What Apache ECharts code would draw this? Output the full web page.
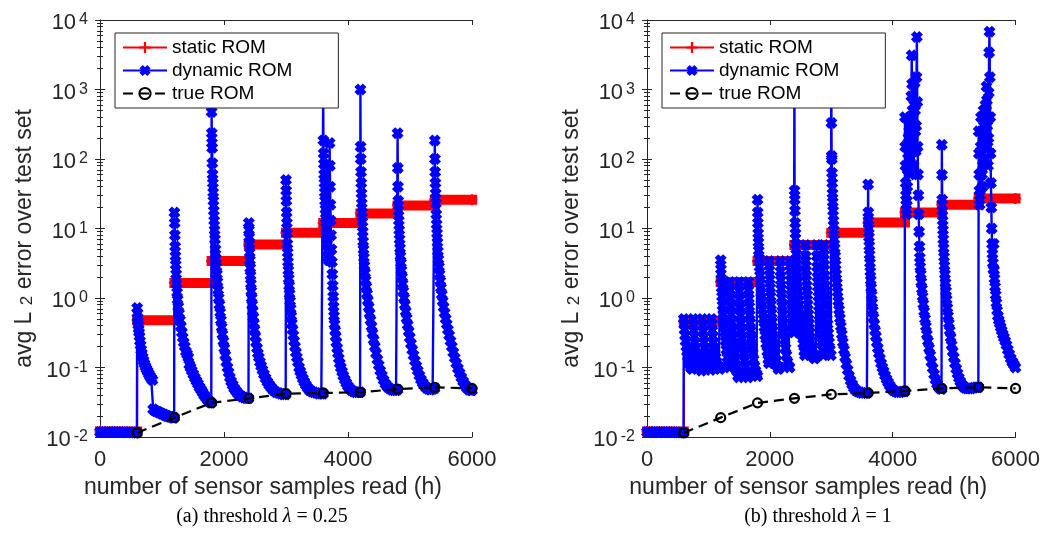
<!DOCTYPE html>
<html>
<head>
<meta charset="utf-8">
<script src="https://cdn.jsdelivr.net/npm/echarts@6/dist/echarts.min.js"></script>
<style>
  html, body { margin: 0; padding: 0; background: #fff; }
  #main { width: 1043px; height: 534px; }
</style>
</head>
<body>
<div id="main"></div>
<script>
// 数据：每段 600 个样本
var segStart = [0, 600, 1200, 1800, 2400, 3000, 3600, 4200, 4800, 5400];
var segEnd = 6000;

// static ROM 每段的误差水平
var staticA = [0.012, 0.48, 1.65, 3.4, 5.9, 8.7, 12, 16.5, 21.5, 26];
var staticB = [0.012, 0.47, 1.7, 3.4, 5.8, 8.7, 12.2, 17, 22, 27];

// true ROM
var trueH = [600, 1200, 1800, 2400, 3000, 3600, 4200, 4800, 5400, 6000];
var trueA = [0.0115, 0.019, 0.031, 0.036, 0.042, 0.043, 0.044, 0.049, 0.052, 0.05];
var trueB = [0.0115, 0.019, 0.031, 0.036, 0.041, 0.043, 0.046, 0.05, 0.052, 0.05];

// dynamic ROM (a) threshold 0.25, [h, error]
var dynamicA = [
  // 0-600
  [0,0.0118],[40,0.0118],[80,0.0117],[120,0.0118],[160,0.0118],[200,0.0117],[240,0.0118],[280,0.0118],[320,0.0117],[360,0.0117],[400,0.0118],[440,0.0117],[480,0.0117],[520,0.0116],[560,0.0116],[595,0.0116],
  // 600-1200
  [600,0.72],[604,0.6],[608,0.52],[613,0.46],[618,0.41],[624,0.36],[630,0.32],[637,0.28],[645,0.24],[654,0.21],[664,0.18],[675,0.16],[688,0.14],[702,0.125],[717,0.113],[733,0.103],[750,0.095],[768,0.088],[787,0.081],[806,0.075],[826,0.07],[846,0.066],[858,0.025],[880,0.024],[905,0.0235],[930,0.023],[955,0.0225],[980,0.022],[1005,0.0215],[1030,0.021],[1055,0.0205],[1080,0.02],[1105,0.0198],[1130,0.0195],[1155,0.0192],[1180,0.019],[1196,0.019],
  // 1200-1800
  [1200,17],[1204,12],[1208,8],[1212,5.5],[1217,4],[1222,3],[1228,2.2],[1235,1.6],[1243,1.2],[1252,0.95],[1262,0.75],[1275,0.6],[1290,0.48],[1305,0.39],[1320,0.32],[1335,0.27],[1350,0.23],[1368,0.2],[1386,0.17],[1405,0.155],[1425,0.14],[1440,0.11],[1460,0.1],[1480,0.09],[1505,0.08],[1530,0.071],[1555,0.064],[1580,0.058],[1605,0.052],[1630,0.048],[1655,0.044],[1680,0.04],[1710,0.037],[1740,0.034],[1770,0.032],[1795,0.031],
  // 1800-2400
  [1800,475],[1803,235],[1806,170],[1809,145],[1812,87],[1816,60],[1820,45],[1825,33],[1830,25],[1836,18],[1842,13],[1848,9.5],[1855,7],[1862,5],[1870,3.7],[1878,2.8],[1886,2.2],[1895,1.7],[1905,1.3],[1915,1],[1926,0.8],[1938,0.62],[1950,0.48],[1962,0.38],[1975,0.3],[1990,0.24],[2005,0.19],[2020,0.15],[2038,0.12],[2056,0.1],[2075,0.085],[2095,0.072],[2115,0.063],[2140,0.056],[2165,0.05],[2195,0.046],[2225,0.042],[2255,0.04],[2290,0.038],[2325,0.037],[2360,0.036],[2395,0.036],
  // 2400-3000
  [2400,12],[2403,9.5],[2406,7.5],[2410,6],[2414,4.5],[2418,3.5],[2423,2.7],[2428,2.1],[2434,1.6],[2440,1.25],[2447,1],[2455,0.8],[2463,0.65],[2472,0.53],[2482,0.43],[2493,0.35],[2505,0.28],[2518,0.23],[2532,0.19],[2547,0.16],[2562,0.14],[2580,0.12],[2600,0.105],[2620,0.092],[2645,0.08],[2670,0.07],[2700,0.062],[2730,0.056],[2765,0.051],[2800,0.047],[2840,0.044],[2880,0.043],[2920,0.042],[2960,0.041],[2995,0.041],
  // 3000-3600
  [3000,50],[3003,35],[3006,25],[3010,17],[3014,12],[3018,8.5],[3022,6],[3027,4.5],[3032,3.3],[3038,2.5],[3044,1.9],[3051,1.5],[3058,1.15],[3066,0.9],[3075,0.7],[3085,0.55],[3095,0.43],[3106,0.35],[3118,0.29],[3131,0.24],[3145,0.2],[3160,0.165],[3176,0.14],[3193,0.12],[3211,0.1],[3230,0.088],[3250,0.078],[3272,0.069],[3295,0.062],[3320,0.056],[3350,0.051],[3380,0.047],[3415,0.045],[3450,0.044],[3490,0.043],[3530,0.042],[3570,0.042],[3598,0.042],
  // 3600-4200
  [3600,900],[3603,185],[3607,120],[3611,85],[3615,60],[3620,45],[3625,33],[3630,25],[3636,19],[3642,14],[3648,10.5],[3655,8],[3662,6],[3670,4.8],[3678,3.8],[3686,3.5],[3700,3.5],[3703,170],[3707,80],[3711,40],[3716,22],[3721,13],[3727,8],[3733,5],[3740,3.3],[3747,2.2],[3754,1.5],[3761,1.05],[3768,0.75],[3775,0.55],[3783,0.42],[3792,0.34],[3802,0.28],[3813,0.23],[3825,0.19],[3838,0.16],[3852,0.135],[3868,0.115],[3885,0.1],[3905,0.087],[3925,0.076],[3948,0.067],[3972,0.06],[3998,0.054],[4025,0.05],[4055,0.047],[4090,0.045],[4125,0.044],[4160,0.044],[4195,0.044],
  // 4200-4800
  [4200,1000],[4203,150],[4206,100],[4210,65],[4214,45],[4218,32],[4222,23],[4227,17],[4232,12.5],[4238,9],[4244,6.5],[4250,5],[4257,3.8],[4265,2.9],[4274,2.3],[4284,1.8],[4295,1.45],[4307,1.15],[4320,0.92],[4334,0.74],[4348,0.6],[4363,0.48],[4379,0.39],[4396,0.31],[4414,0.25],[4433,0.2],[4453,0.16],[4474,0.13],[4496,0.108],[4520,0.09],[4546,0.077],[4574,0.066],[4604,0.058],[4636,0.053],[4670,0.05],[4705,0.048],[4740,0.047],[4775,0.047],[4798,0.048],
  // 4800-5400
  [4800,235],[4803,74],[4806,40],[4810,25],[4815,18],[4820,13],[4826,9.5],[4832,7],[4839,5.2],[4846,4],[4854,3.2],[4862,2.5],[4871,2],[4881,1.6],[4892,1.25],[4904,1],[4917,0.8],[4931,0.64],[4946,0.51],[4962,0.41],[4979,0.33],[4997,0.27],[5016,0.22],[5036,0.18],[5057,0.15],[5079,0.125],[5102,0.105],[5126,0.09],[5151,0.077],[5177,0.067],[5204,0.06],[5232,0.055],[5262,0.051],[5295,0.049],[5330,0.048],[5365,0.049],[5395,0.05],
  // 5400-6000
  [5400,185],[5403,100],[5406,65],[5410,45],[5414,32],[5419,23],[5424,16],[5430,11.5],[5436,8.5],[5443,6.3],[5450,4.7],[5458,3.6],[5467,2.8],[5477,2.2],[5488,1.75],[5500,1.4],[5513,1.12],[5527,0.9],[5542,0.74],[5558,0.61],[5575,0.5],[5593,0.42],[5612,0.35],[5632,0.29],[5653,0.24],[5675,0.2],[5698,0.165],[5722,0.138],[5747,0.115],[5773,0.097],[5800,0.083],[5828,0.072],[5857,0.063],[5887,0.056],[5918,0.051],[5950,0.048],[5980,0.047],[6000,0.047]
];

// dynamic ROM (b) threshold 1
var dynamicB = [
  // 0-600
  [0,0.0118],[40,0.0118],[80,0.0117],[120,0.0118],[160,0.0118],[200,0.0117],[240,0.0118],[280,0.0118],[320,0.0117],[360,0.0117],[400,0.0118],[440,0.0117],[480,0.0117],[520,0.0116],[560,0.0116],[595,0.0116],
  // 600-1200
  [600,0.5],[606,0.42],[613,0.35],[621,0.29],[630,0.24],[640,0.2],[652,0.17],[665,0.145],[680,0.125],[697,0.11],[715,0.1],[735,0.095],
  [750,0.5],[756,0.41],[763,0.34],[771,0.28],[780,0.23],[791,0.19],[803,0.16],[816,0.14],[831,0.12],[848,0.105],[866,0.097],[885,0.09],
  [900,0.5],[906,0.4],[913,0.33],[921,0.27],[930,0.23],[941,0.19],[953,0.16],[967,0.135],[982,0.12],[999,0.105],[1017,0.097],[1035,0.092],
  [1050,0.5],[1056,0.42],[1063,0.34],[1071,0.28],[1080,0.23],[1091,0.19],[1103,0.16],[1117,0.14],[1132,0.12],[1149,0.107],[1167,0.1],[1185,0.095],[1197,0.1],
  // 1200-1800
  [1200,3.5],[1204,2.6],[1209,1.9],[1215,1.4],[1222,1.05],[1230,0.78],[1240,0.58],[1251,0.43],[1263,0.32],[1277,0.24],[1292,0.18],[1308,0.14],[1325,0.115],[1342,0.1],
  [1350,1.7],[1354,1.3],[1359,1],[1365,0.76],[1372,0.58],[1380,0.45],[1389,0.35],[1399,0.27],[1410,0.21],[1422,0.165],[1435,0.13],[1450,0.105],[1466,0.088],[1483,0.076],[1495,0.072],
  [1500,1.7],[1504,1.25],[1509,0.95],[1515,0.72],[1522,0.56],[1530,0.43],[1539,0.33],[1549,0.26],[1560,0.2],[1572,0.16],[1585,0.125],[1600,0.1],[1616,0.085],[1633,0.075],[1645,0.072],
  [1650,1.7],[1654,1.3],[1659,0.98],[1665,0.75],[1672,0.57],[1680,0.44],[1689,0.34],[1699,0.26],[1710,0.2],[1722,0.16],[1735,0.13],[1750,0.105],[1766,0.09],[1783,0.08],[1797,0.075],
  // 1800-2400
  [1800,26],[1803,17],[1806,12],[1810,8.5],[1814,6.3],[1819,4.8],[1825,3.7],[1832,2.8],[1840,2.1],[1849,1.6],[1859,1.2],[1870,0.9],[1882,0.68],[1895,0.5],[1909,0.38],[1924,0.29],[1940,0.22],[1957,0.17],[1975,0.13],[1985,0.115],
  [1990,3.4],[1994,2.5],[1999,1.85],[2005,1.4],[2012,1.05],[2020,0.8],[2029,0.6],[2039,0.45],[2050,0.34],[2062,0.26],[2075,0.2],[2090,0.155],[2106,0.125],[2123,0.105],[2140,0.095],[2160,0.1],
  [2170,3.4],[2174,2.4],[2179,1.8],[2185,1.35],[2192,1],[2200,0.76],[2209,0.57],[2219,0.43],[2230,0.33],[2242,0.25],[2255,0.19],[2270,0.15],[2286,0.12],[2303,0.105],[2320,0.1],
  [2330,3.4],[2334,2.5],[2339,1.8],[2345,1.3],[2352,0.95],[2360,0.7],[2369,0.52],[2379,0.4],[2392,0.32],
  // 2400-3000
  [2400,2000],[2403,35],[2406,26],[2409,18],[2413,12],[2417,8.5],[2422,6],[2428,4.3],[2435,3.1],[2443,2.3],[2452,1.7],[2462,1.25],[2473,0.92],[2485,0.68],[2498,0.5],[2512,0.38],[2527,0.29],[2543,0.22],[2560,0.17],[2572,0.15],
  [2580,5.8],[2584,4],[2589,2.9],[2595,2.1],[2602,1.5],[2610,1.1],[2619,0.8],[2629,0.58],[2640,0.43],[2652,0.32],[2665,0.24],[2680,0.19],[2696,0.16],[2713,0.14],[2730,0.135],[2750,0.14],
  [2760,5.8],[2764,4],[2769,2.8],[2775,2],[2782,1.45],[2790,1.05],[2799,0.76],[2809,0.56],[2820,0.41],[2832,0.3],[2845,0.23],[2858,0.18],[2872,0.15],
  [2880,5.8],[2884,4.2],[2889,3],[2895,2.1],[2902,1.5],[2910,1.1],[2919,0.8],[2929,0.58],[2940,0.42],[2952,0.31],[2965,0.23],[2978,0.18],[2994,0.15],
  // 3000-3600
  [3000,1500],[3003,330],[3006,110],[3009,100],[3012,63],[3016,45],[3020,32],[3025,24],[3030,18],[3036,13],[3042,9.5],[3049,7],[3056,5.2],[3064,4],[3072,3],[3081,2.2],[3091,1.65],[3102,1.22],[3114,0.9],[3127,0.68],[3141,0.51],[3156,0.39],[3172,0.3],[3189,0.23],[3207,0.18],[3226,0.14],[3246,0.112],[3267,0.092],[3290,0.076],[3314,0.065],[3340,0.057],[3368,0.051],[3398,0.047],[3430,0.045],[3465,0.044],[3500,0.043],[3540,0.043],[3580,0.043],
  // 3600-4200
  [3600,43],[3603,17],[3606,13],[3610,10],[3614,7.5],[3619,5.6],[3624,4.2],[3630,3.2],[3636,2.4],[3643,1.8],[3650,1.4],[3658,1.1],[3667,0.85],[3677,0.66],[3688,0.52],[3700,0.42],[3713,0.34],[3727,0.28],[3742,0.23],[3758,0.19],[3775,0.16],[3793,0.135],[3812,0.115],[3832,0.1],[3853,0.088],[3876,0.077],[3900,0.068],[3925,0.061],[3952,0.055],[3980,0.05],[4010,0.047],[4045,0.045],[4080,0.044],[4120,0.044],[4160,0.045],[4195,0.045],
  // 4200-4800
  [4200,400],[4204,150],[4208,80],[4212,45],[4216,30],[4220,22],[4226,16],[4232,25],[4238,40],[4244,70],[4250,120],[4256,200],[4262,360],[4268,250],[4274,150],[4280,90],[4286,60],[4292,120],[4298,300],[4304,800],[4310,3100],[4316,1200],[4322,500],[4328,250],[4334,130],[4340,80],[4346,130],[4352,600],[4358,1250],[4364,500],[4370,250],[4376,130],[4382,300],[4388,1500],[4394,5700],[4400,660],[4406,150],[4412,60],[4418,30],[4424,16],[4430,9],[4436,5.5],[4442,3.8],[4449,2.8],[4457,2.2],[4466,1.7],[4476,1.35],[4487,1.05],[4499,0.82],[4512,0.64],[4526,0.5],[4541,0.39],[4557,0.3],[4574,0.24],[4592,0.19],[4611,0.15],[4631,0.12],[4652,0.098],[4674,0.08],[4697,0.067],[4721,0.058],[4746,0.053],[4772,0.05],[4795,0.049],
  // 4800-5400
  [4800,160],[4803,59],[4806,26],[4810,18],[4814,13],[4819,9.5],[4824,7],[4830,5.2],[4836,3.9],[4843,2.9],[4851,2.2],[4860,1.65],[4869,1.25],[4879,0.95],[4890,0.72],[4902,0.55],[4915,0.43],[4929,0.34],[4944,0.27],[4960,0.21],[4977,0.17],[4995,0.14],[5014,0.115],[5034,0.096],[5055,0.082],[5077,0.071],[5100,0.063],[5124,0.057],[5150,0.053],[5178,0.051],[5210,0.05],[5245,0.05],[5280,0.05],[5320,0.051],[5360,0.052],[5395,0.052],
  // 5400-6000
  [5400,250],[5404,120],[5408,60],[5412,35],[5416,22],[5420,30],[5426,60],[5432,150],[5438,400],[5444,250],[5450,120],[5456,60],[5462,40],[5468,80],[5474,200],[5480,500],[5486,300],[5492,150],[5498,100],[5504,200],[5510,600],[5516,300],[5522,500],[5528,1100],[5534,700],[5540,300],[5546,150],[5552,80],[5558,200],[5564,900],[5570,3400],[5576,6800],[5582,1500],[5588,400],[5594,120],[5600,45],[5606,20],[5612,10],[5618,6],[5624,4.3],[5632,3.2],[5640,2.6],[5645,6],[5650,2.5],[5658,1.9],[5667,1.45],[5677,1.1],[5688,0.85],[5700,0.66],[5713,0.55],[5727,0.48],[5742,0.43],[5758,0.38],[5775,0.34],[5793,0.3],[5812,0.27],[5832,0.24],[5853,0.21],[5875,0.18],[5898,0.155],[5922,0.135],[5947,0.12],[5972,0.11],[5998,0.1]
];

var names = ['static ROM', 'dynamic ROM', 'true ROM'];

var axisColor = '#262626';
var sansFont = 'Liberation Sans, Arial, sans-serif';
var plusPath = 'path://M4,0H6V4H10V6H6V10H4V6H0V4H4Z';
var crossPath = 'path://M0,3L3,0L5,2L7,0L10,3L8,5L10,7L7,10L5,8L3,10L0,7L2,5Z';

// 阶梯线的点：每段起点 + 终点
function stepData(levels) {
  var out = [];
  for (var i = 0; i < segStart.length; i++) out.push([segStart[i], levels[i]]);
  out.push([segEnd, levels[levels.length - 1]]);
  return out;
}
// 粗红带：每段一条水平线，段间断开
function bandData(levels) {
  var out = [];
  for (var i = 0; i < segStart.length; i++) {
    var e = i < segStart.length - 1 ? segStart[i + 1] : segEnd;
    out.push([segStart[i], levels[i]]);
    out.push([e, levels[i]]);
    out.push([e, '-']);
  }
  return out;
}
function pairs(xs, ys) {
  return xs.map(function (x, i) { return [x, ys[i]]; });
}

function xAx(g, pos) {
  var bottom = pos === 'bottom';
  return {
    type: 'value', gridIndex: g, position: pos,
    min: 0, max: 6000, interval: 2000,
    axisLine: { show: true, onZero: false, lineStyle: { color: axisColor, width: 1 } },
    axisTick: { show: true, inside: true, length: 5, lineStyle: { color: axisColor } },
    splitLine: { show: false },
    axisLabel: bottom ? {
      show: true, fontSize: 22, fontFamily: sansFont, color: axisColor, margin: 12,
      formatter: function (v) { return String(v); }
    } : { show: false },
    name: bottom ? 'number of sensor samples read (h)' : '',
    nameLocation: 'middle',
    nameGap: 35,
    nameTextStyle: { fontSize: 23, fontFamily: sansFont, color: axisColor, padding: [0, 46, 0, 0] }
  };
}

function yAx(g, pos) {
  var left = pos === 'left';
  return {
    type: 'log', logBase: 10, gridIndex: g, position: pos,
    min: 0.01, max: 10000, splitNumber: 6,
    axisLine: { show: true, lineStyle: { color: axisColor, width: 1 } },
    axisTick: { show: true, inside: true, length: 5, lineStyle: { color: axisColor } },
    minorTick: { show: true, splitNumber: 9, length: 3, lineStyle: { color: axisColor } },
    splitLine: { show: false },
    axisLabel: left ? {
      show: true, margin: 12, color: axisColor, padding: [6, 0, 0, 0],
      formatter: function (v) {
        var e = Math.round(Math.log(v) / Math.LN10);
        return '{b|10}{s|' + e + '}';
      },
      rich: {
        b: { fontSize: 22, lineHeight: 22, fontFamily: sansFont, color: axisColor, verticalAlign: 'bottom' },
        s: { fontSize: 16, lineHeight: 16, fontFamily: sansFont, color: axisColor, verticalAlign: 'top', padding: [0, 0, 8, 3] }
      }
    } : { show: false },
    name: left ? 'avg L {sub|2} error over test set' : '',
    nameLocation: 'middle',
    nameRotate: 90,
    nameGap: 64,
    nameTextStyle: {
      fontSize: 23, fontFamily: sansFont, color: axisColor, padding: [0, 20, 0, 0],
      rich: {
        sub: { fontSize: 17, lineHeight: 17, fontFamily: sansFont, color: axisColor, verticalAlign: 'bottom', padding: [14, 0, 0, 0] }
      }
    }
  };
}

function seriesFor(g, levels, dyn, trueVals) {
  return [
    {
      name: 'static band', type: 'line', xAxisIndex: 2 * g, yAxisIndex: 2 * g,
      data: bandData(levels), symbol: 'none', silent: true, z: 2,
      lineStyle: { color: '#ff0000', width: 10, cap: 'square' }
    },
    {
      name: names[0], type: 'line', xAxisIndex: 2 * g, yAxisIndex: 2 * g,
      data: stepData(levels), step: 'end', z: 3,
      symbol: plusPath, symbolSize: 11, showAllSymbol: true,
      itemStyle: { color: '#ff0000' },
      lineStyle: { color: '#ff0000', width: 2 }
    },
    {
      name: names[1], type: 'line', xAxisIndex: 2 * g, yAxisIndex: 2 * g,
      data: dyn, z: 4,
      symbol: crossPath, symbolSize: 12, showAllSymbol: true,
      itemStyle: { color: '#0000ff' },
      lineStyle: { color: '#0000ff', width: 2.4 }
    },
    {
      name: names[2], type: 'line', xAxisIndex: 2 * g, yAxisIndex: 2 * g,
      data: pairs(trueH, trueVals), z: 5,
      symbol: 'circle', symbolSize: 9, showAllSymbol: true,
      itemStyle: { color: 'rgba(255,255,255,0)', borderColor: '#000', borderWidth: 2.2 },
      lineStyle: { color: '#000', width: 2.2, type: [10, 6] }
    }
  ];
}

function legendAt(left) {
  return {
    data: names, left: left, top: 33, orient: 'vertical',
    padding: [5, 46, 5, 7], itemWidth: 44, itemHeight: 14, itemGap: 4,
    backgroundColor: '#fff', borderColor: axisColor, borderWidth: 1, borderRadius: 0,
    textStyle: { fontSize: 19, lineHeight: 19, fontFamily: sansFont, color: '#000' },
    z: 10
  };
}

var chart = echarts.init(document.getElementById('main'), null, { renderer: 'canvas' });
var option = {
  animation: false,
  backgroundColor: '#fff',
  grid: [
    { left: 100, top: 20, width: 372, height: 417 },
    { left: 647, top: 20, width: 372, height: 417 }
  ],
  xAxis: [xAx(0, 'bottom'), xAx(0, 'top'), xAx(1, 'bottom'), xAx(1, 'top')],
  yAxis: [yAx(0, 'left'), yAx(0, 'right'), yAx(1, 'left'), yAx(1, 'right')],
  legend: [legendAt(115), legendAt(662)],
  series: seriesFor(0, staticA, dynamicA, trueA).concat(seriesFor(1, staticB, dynamicB, trueB)),
  graphic: [
    {
      type: 'text', x: 262, y: 517,
      style: {
        text: '(a) threshold {i|λ} = 0.25', align: 'center', verticalAlign: 'middle',
        font: '20px "Liberation Serif", serif', fill: '#000',
        rich: { i: { fontStyle: 'italic', fontSize: 20, fontFamily: 'Liberation Serif' } }
      }
    },
    {
      type: 'text', x: 818, y: 517,
      style: {
        text: '(b) threshold {i|λ} = 1', align: 'center', verticalAlign: 'middle',
        font: '20px "Liberation Serif", serif', fill: '#000',
        rich: { i: { fontStyle: 'italic', fontSize: 20, fontFamily: 'Liberation Serif' } }
      }
    }
  ]
};
chart.setOption(option);
</script>
</body>
</html>
